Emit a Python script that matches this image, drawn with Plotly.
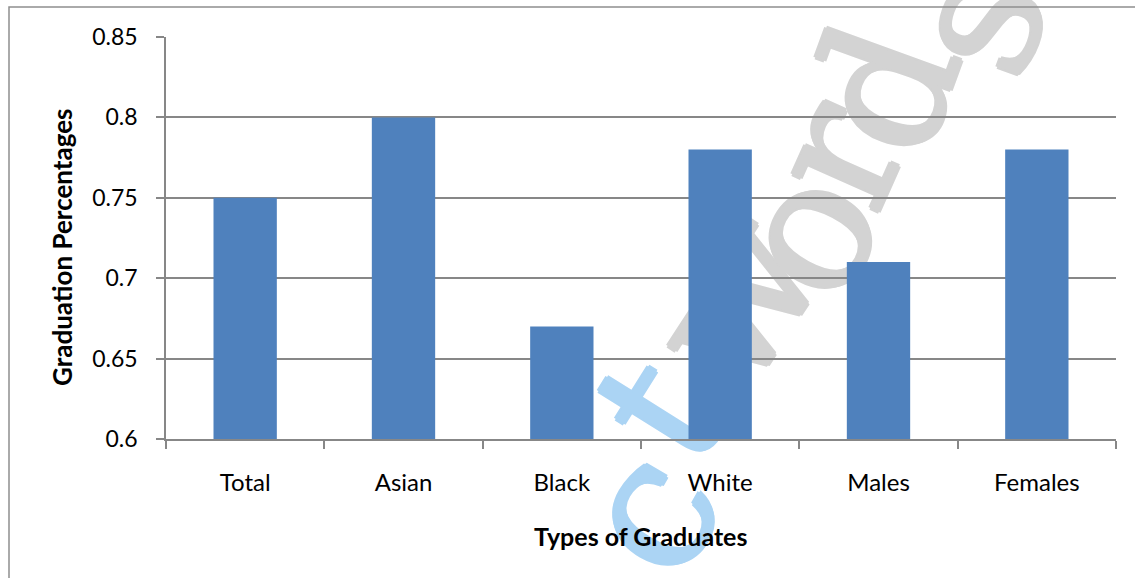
import plotly.graph_objects as go

# Graduation rates by group
categories = ["Total", "Asian", "Black", "White", "Males", "Females"]
rates = [0.75, 0.80, 0.67, 0.78, 0.71, 0.78]

W, H = 1135, 578
L, R, T, B = 166, 19, 37, 139
PW, PH = W - L - R, H - T - B


def px(x):
    return (x - L) / PW


def py(y):
    return (H - B - y) / PH


fig = go.Figure(
    go.Bar(
        x=categories,
        y=rates,
        marker=dict(color="#4f81bd", line=dict(width=0)),
        width=0.4,
    )
)

GRID = "#878787"
FONT = "Lato, 'Open Sans', sans-serif"
BLUE_WM = "#abd4f4"
GREY_WM = "#d3d3d3"


def halo(col, r=2):
    # thicken the glyph strokes with a same-coloured outline
    offs = [(r, 0), (-r, 0), (0, r), (0, -r)]
    return ", ".join(f"{a}px {b}px 0 {col}" for a, b in offs)


# watermark letters (character, centre x, centre y, angle, colour), kept under the bars
watermark = [
    ("e", 555, 620, -50, BLUE_WM),
    ("c", 637, 505, -60, BLUE_WM),
    ("t", 648, 402, -58, BLUE_WM),
    ("w", 724, 293, -57, GREY_WM),
    ("o", 795, 226, -62, GREY_WM),
    ("r", 824, 148, -66, GREY_WM),
    ("d", 872, 84, -70, GREY_WM),
    ("s", 964, 16, -70, GREY_WM),
]
for ch, cx, cy, ang, col in watermark:
    fig.add_shape(
        type="line",
        xref="paper", yref="paper",
        x0=px(cx - 1), y0=py(cy), x1=px(cx + 1), y1=py(cy),
        line=dict(width=0, color="rgba(0,0,0,0)"),
        layer="below",
        label=dict(
            text=ch,
            textposition="middle",
            textangle=ang,
            xanchor="center",
            yanchor="middle",
            padding=0,
            font=dict(family="'DejaVu Serif', serif", size=182,
                      shadow=halo(col), color=col),
        ),
    )

# outer chart frame
fig.add_shape(
    type="rect", xref="paper", yref="paper",
    x0=px(9), y0=py(H + 20), x1=px(W + 20), y1=py(7),
    line=dict(color="#8e8e8e", width=1.5),
    fillcolor="rgba(0,0,0,0)",
    layer="below",
)

# axis titles
fig.add_annotation(
    text="<b>Types of Graduates</b>",
    xref="paper", yref="paper", x=px(640), y=py(536),
    xanchor="center", yanchor="middle", showarrow=False,
    font=dict(family=FONT, size=25, color="#000000"),
)
fig.add_annotation(
    text="<b>Graduation Percentages</b>",
    xref="paper", yref="paper", x=px(62), y=py(247),
    xanchor="center", yanchor="middle", showarrow=False, textangle=-90,
    font=dict(family=FONT, size=26, color="#000000"),
)

fig.update_layout(
    width=W,
    height=H,
    margin=dict(l=L, r=R, t=T, b=B),
    paper_bgcolor="white",
    plot_bgcolor="rgba(0,0,0,0)",
    showlegend=False,
    font=dict(family=FONT, color="#000000"),
    xaxis=dict(
        type="category",
        showline=True,
        linecolor=GRID,
        linewidth=1.5,
        ticks="outside",
        tickson="boundaries",
        ticklen=8,
        tickcolor=GRID,
        tickwidth=1.5,
        tickfont=dict(size=24),
        ticklabelstandoff=21,
        showgrid=False,
    ),
    yaxis=dict(
        range=[0.6, 0.85],
        dtick=0.05,
        tick0=0.6,
        showline=True,
        linecolor=GRID,
        linewidth=1.5,
        ticks="outside",
        ticklen=8,
        tickcolor=GRID,
        tickwidth=1.5,
        tickfont=dict(size=23),
        ticklabelstandoff=14,
        showgrid=True,
        gridcolor=GRID,
        gridwidth=1.5,
        zeroline=False,
    ),
)

fig.write_html("out.html")
